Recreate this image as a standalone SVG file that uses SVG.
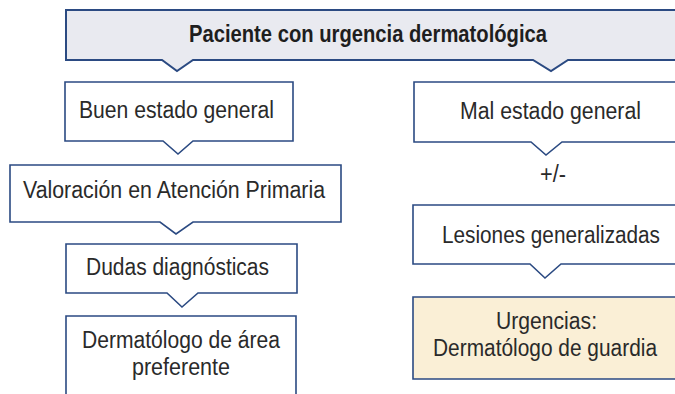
<svg xmlns="http://www.w3.org/2000/svg" width="675" height="394" viewBox="0 0 675 394">
<style>
.box{fill:#ffffff;stroke:#2b4a82;stroke-width:1.6;stroke-linejoin:miter}
.head{fill:#e9eaf0;stroke:#2b4a82;stroke-width:2}
.warm{fill:#faefd6;stroke:#2b4a82;stroke-width:1.6}
.t{font-family:"Liberation Sans",Arial,sans-serif;font-size:23px;fill:#2a2a2a;text-anchor:middle}
.b{font-weight:bold;fill:#1e1e1e}
</style>
<rect width="675" height="394" fill="#ffffff"/>
<g id="node-paciente">
<path class="head" d="M66,10 H680 V60 H568 L551,71 L533,60 H193 L177,71 L162,60 H66 Z"/>
<text class="t b" x="368" y="42" textLength="358" lengthAdjust="spacingAndGlyphs">Paciente con urgencia dermatológica</text>
</g>
<g id="node-buen">
<path class="box" d="M65,82 H293 V141 H193 L178,154 L163,141 H65 Z"/>
<text class="t" x="176.5" y="118" textLength="195" lengthAdjust="spacingAndGlyphs">Buen estado general</text>
</g>
<g id="node-valoracion">
<path class="box" d="M10,165 H341 V222 H193 L176,234 L160,222 H10 Z"/>
<text class="t" x="174" y="198" textLength="302" lengthAdjust="spacingAndGlyphs">Valoración en Atención Primaria</text>
</g>
<g id="node-dudas">
<path class="box" d="M66,244 H297 V293 H198 L182,307 L167,293 H66 Z"/>
<text class="t" x="177.5" y="275" textLength="183" lengthAdjust="spacingAndGlyphs">Dudas diagnósticas</text>
</g>
<g id="node-dermatologo-area">
<rect x="66" y="316" width="230" height="90" fill="#ffffff"/>
<path class="box" fill="none" d="M66,400 V316 H296 V400"/>
<text class="t" x="181" y="348" textLength="198" lengthAdjust="spacingAndGlyphs">Dermatólogo de área</text>
<text class="t" x="181" y="375" textLength="98" lengthAdjust="spacingAndGlyphs">preferente</text>
</g>
<g id="node-mal">
<path class="box" d="M414,82 H680 V142 H562 L546,155 L531,142 H414 Z"/>
<text class="t" x="550.5" y="119" textLength="181" lengthAdjust="spacingAndGlyphs">Mal estado general</text>
</g>
<g id="node-lesiones">
<path class="box" d="M413,205 H680 V264 H561 L545,278 L530,264 H413 Z"/>
<text class="t" x="551" y="243" textLength="218" lengthAdjust="spacingAndGlyphs">Lesiones generalizadas</text>
</g>
<g id="node-urgencias">
<path class="warm" d="M413,297 H680 V379 H413 Z"/>
<text class="t" x="546.5" y="329" textLength="101" lengthAdjust="spacingAndGlyphs">Urgencias:</text>
<text class="t" x="545" y="356" textLength="224" lengthAdjust="spacingAndGlyphs">Dermatólogo de guardia</text>
</g>
<g id="connectors">
<text class="t" x="553" y="182" textLength="26" lengthAdjust="spacingAndGlyphs">+/-</text>
</g>
</svg>
